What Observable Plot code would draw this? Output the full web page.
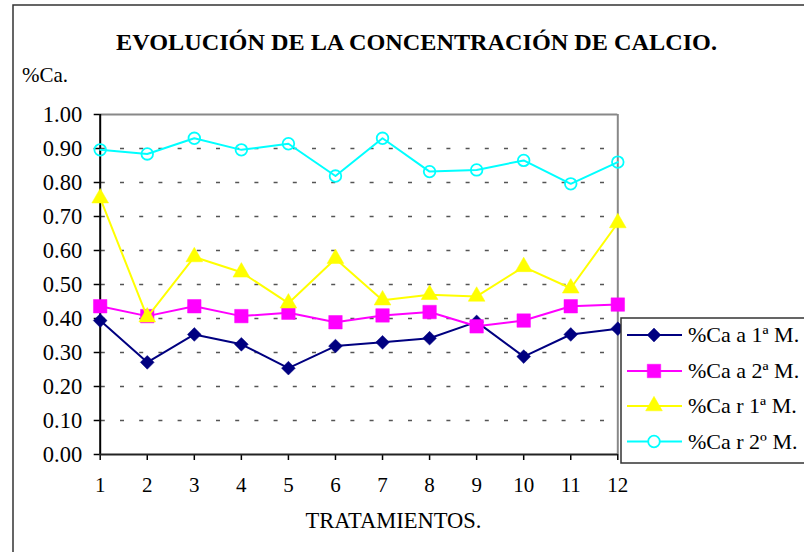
<!DOCTYPE html>
<html>
<head>
<meta charset="utf-8">
<script src="https://cdn.jsdelivr.net/npm/d3@7"></script>
<script src="https://cdn.jsdelivr.net/npm/@observablehq/plot@0.6"></script>
<style>
  html, body { margin: 0; padding: 0; background: #fff; overflow: hidden; }
  #chart { font-family: "Liberation Serif", "Times New Roman", serif; }
  #chart svg { display: block; font-family: "Liberation Serif", "Times New Roman", serif !important; }
  #chart svg text { font-family: "Liberation Serif", "Times New Roman", serif; }
</style>
</head>
<body>
<div id="chart"></div>
<script>
// ---- data ----
const treatments = [1, 2, 3, 4, 5, 6, 7, 8, 9, 10, 11, 12];
const seriesNames = ["%Ca a 1ª M.", "%Ca a 2ª M.", "%Ca r 1ª M.", "%Ca r 2º M."];
const caA1 = [0.394, 0.271, 0.353, 0.324, 0.254, 0.319, 0.330, 0.342, 0.390, 0.288, 0.353, 0.370];
const caA2 = [0.436, 0.407, 0.436, 0.407, 0.417, 0.389, 0.409, 0.419, 0.377, 0.394, 0.436, 0.441];
const caR1 = [0.754, 0.404, 0.581, 0.536, 0.445, 0.576, 0.454, 0.470, 0.465, 0.552, 0.489, 0.681];
const caR2 = [0.896, 0.884, 0.930, 0.896, 0.914, 0.819, 0.930, 0.832, 0.837, 0.865, 0.796, 0.860];
const yTicks = [0, 0.1, 0.2, 0.3, 0.4, 0.5, 0.6, 0.7, 0.8, 0.9, 1.0];
const titleText = "EVOLUCIÓN DE LA CONCENTRACIÓN DE CALCIO.";
const yLabelText = "%Ca.";
const xLabelText = "TRATAMIENTOS.";

// ---- styles ----
const seriesValues = [caA1, caA2, caR1, caR2];
const styles = [
  {color: "#000080", symbol: "diamond2", r: 6.2, fill: "#000080"},
  {color: "#ff00ff", symbol: "square", r: 7.6, fill: "#ff00ff"},
  {color: "#ffff00", symbol: "triangle", r: 6.2, fill: "#ffff00"},
  {color: "#00ffff", symbol: "circle", r: 5.8, fill: "none"}
];
const symbolMap = {diamond2: d3.symbolDiamond2, square: d3.symbolSquare, triangle: d3.symbolTriangle, circle: d3.symbolCircle};

const rows = seriesNames.map((name, i) => treatments.map((t, j) => ({t, v: seriesValues[i][j], name})));

const W = 804, H = 552;
const mL = 99.7, mR = W - 617.3, mT = 114, mB = H - 454;
const font = '"Liberation Serif", "Times New Roman", serif';

const seriesMarks = [];
rows.forEach((data, i) => {
  const s = styles[i];
  seriesMarks.push(Plot.line(data, {x: "t", y: "v", stroke: s.color, strokeWidth: 2}));
  seriesMarks.push(Plot.dot(data, {
    x: "t", y: "v", symbol: () => s.symbol, r: s.r,
    fill: s.fill, stroke: s.color,
    strokeWidth: s.fill === "none" ? 1.8 : 0.5
  }));
});

const svg = Plot.plot({
  width: W, height: H,
  marginLeft: mL, marginRight: mR, marginTop: mT, marginBottom: mB,
  x: {type: "linear", domain: [1, 12], axis: null},
  y: {domain: [0, 1], axis: null},
  symbol: {type: "identity"},
  style: {fontFamily: font, fontSize: "20px", color: "#000", background: "#fff"},
  marks: [
    Plot.ruleY(yTicks.filter(d => d > 0 && d < 1), {stroke: "#555", strokeWidth: 1.5, strokeDasharray: "4,15.2", strokeDashoffset: 18.1}),
    Plot.ruleY([1], {stroke: "#888", strokeWidth: 2}),
    Plot.ruleX([12], {stroke: "#888", strokeWidth: 2}),
    Plot.axisY({ticks: yTicks, tickFormat: d3.format(".2f"), tickSize: 6, tickPadding: 12, fontSize: 22.5, label: null, stroke: "#000", strokeWidth: 1.5}),
    Plot.axisX({ticks: treatments, tickFormat: d => String(d), tickSize: 6, tickPadding: 17, fontSize: 21, label: null, stroke: "#000", strokeWidth: 1.5}),
    Plot.ruleX([1], {stroke: "#000", strokeWidth: 2}),
    Plot.ruleY([0], {stroke: "#222", strokeWidth: 2}),
    ...seriesMarks
  ]
});

document.getElementById("chart").appendChild(svg);

const root = d3.select(svg);

// outer chart border (left and top visible)
root.append("path").attr("d", `M13,${H} V5 H${W}`).attr("fill", "none").attr("stroke", "#333").attr("stroke-width", 1.5);

// title
root.append("text").attr("x", 416.5).attr("y", 50).attr("text-anchor", "middle")
  .attr("font-weight", "bold").attr("font-size", 24)
  .attr("textLength", 601).attr("lengthAdjust", "spacingAndGlyphs")
  .attr("fill", "#000").text(titleText);

// y label
root.append("text").attr("x", 22).attr("y", 82).attr("text-anchor", "start")
  .attr("font-size", 21).attr("fill", "#000").text(yLabelText);

// x label
root.append("text").attr("x", 393.5).attr("y", 528).attr("text-anchor", "middle")
  .attr("font-size", 22.5).attr("fill", "#000").text(xLabelText);

// legend
const lg = root.append("g");
lg.append("rect").attr("x", 621).attr("y", 318).attr("width", 200).attr("height", 145)
  .attr("fill", "#fff").attr("stroke", "#333").attr("stroke-width", 1.5);
const rowY = [335, 371, 406, 441.5];
seriesNames.forEach((name, i) => {
  const s = styles[i];
  const y = rowY[i];
  lg.append("line").attr("x1", 627).attr("x2", 682).attr("y1", y).attr("y2", y)
    .attr("stroke", s.color).attr("stroke-width", 2);
  lg.append("path")
    .attr("d", d3.symbol(symbolMap[s.symbol], Math.PI * s.r * s.r)())
    .attr("transform", `translate(654,${y})`)
    .attr("fill", s.fill === "none" ? "#fff" : s.fill)
    .attr("stroke", s.color).attr("stroke-width", s.fill === "none" ? 1.8 : 0.5);
  lg.append("text").attr("x", 688).attr("y", y).attr("dy", "0.33em").attr("text-anchor", "start")
    .attr("font-size", 22).attr("fill", "#000").text(name);
});
</script>
</body>
</html>
